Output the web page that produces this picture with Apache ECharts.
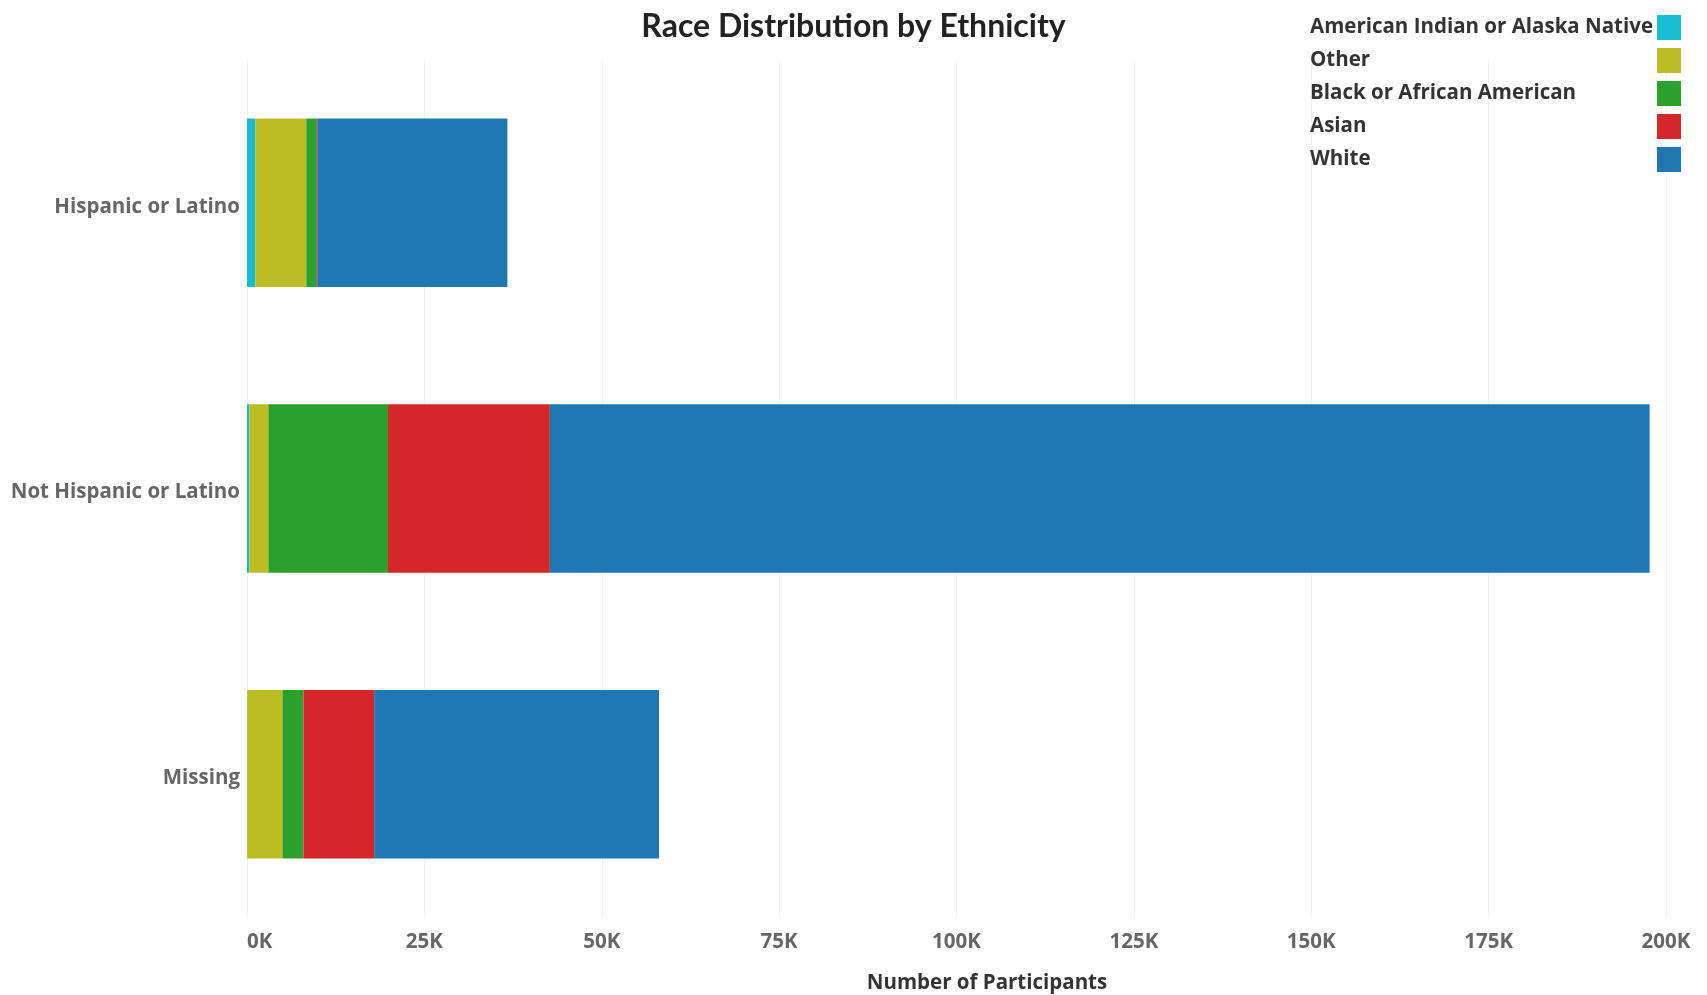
<!DOCTYPE html>
<html>
<head>
<meta charset="utf-8">
<script src="https://cdn.jsdelivr.net/npm/echarts@6/dist/echarts.min.js"></script>
<style>
html,body{margin:0;padding:0;background:#fff;}
#chart{width:1707px;height:995px;}
</style>
</head>
<body>
<div id="chart"></div>
<script>
const categories = ['Hispanic or Latino', 'Not Hispanic or Latino', 'Missing'];
const seriesNames = ['American Indian or Alaska Native', 'Other', 'Black or African American', 'Asian', 'White'];
const americanIndian = [1170, 330, 30];
const other = [7180, 2680, 4970];
const black = [1410, 16860, 2960];
const asian = [140, 22820, 9960];
const white = [26800, 155000, 40150];
const xTicks = [0, 25000, 50000, 75000, 100000, 125000, 150000, 175000, 200000];
const colors = ['#17becf', '#bcbd22', '#2ca02c', '#d62728', '#1f77b4'];

const values = [americanIndian, other, black, asian, white];
const FONT = 'Open Sans';
const TITLE_FONT = 'Lato';
const FS = 20.5;

const chart = echarts.init(document.getElementById('chart'));
chart.setOption({
  animation: false,
  color: colors,
  title: [
    {
      text: 'Race Distribution by Ethnicity',
      left: 'center',
      top: 6,
      textStyle: {fontFamily: TITLE_FONT, fontSize: 32, fontWeight: 'bold', color: '#222'}
    },
    {
      text: 'Number of Participants',
      left: 982,
      textAlign: 'center',
      top: 968,
      textStyle: {fontFamily: FONT, fontSize: FS, fontWeight: 'bold', color: '#333'}
    }
  ],
  legend: {
    orient: 'vertical',
    right: 21,
    top: 10,
    align: 'right',
    itemWidth: 24,
    itemHeight: 25,
    itemGap: 8,
    icon: 'rect',
    selectedMode: false,
    data: seriesNames,
    formatter: '{n|{name}}',
    textStyle: {
      fontFamily: FONT, fontSize: FS, fontWeight: 'bold', color: '#333',
      rich: {n: {width: 342, align: 'left', fontFamily: FONT, fontSize: FS, fontWeight: 'bold', color: '#333'}}
    }
  },
  grid: {left: 247, right: 41, top: 60, bottom: 78, containLabel: false},
  xAxis: {
    type: 'value',
    min: xTicks[0],
    max: xTicks[xTicks.length - 1],
    interval: xTicks[1] - xTicks[0],
    axisLine: {show: false},
    axisTick: {show: false},
    splitLine: {show: true, lineStyle: {color: '#f0f0f0', width: 1}},
    axisLabel: {
      margin: 15,
      alignMinLabel: 'left',
      fontFamily: FONT, fontSize: FS, fontWeight: 'bold', color: '#666',
      formatter: v => (v / 1000) + 'K'
    }
  },
  yAxis: {
    type: 'category',
    data: categories,
    inverse: true,
    axisLine: {show: false},
    axisTick: {show: false},
    splitLine: {show: false},
    axisLabel: {
      margin: 7,
      fontFamily: FONT, fontSize: FS, fontWeight: 'bold', color: '#666',
      formatter: '{c|{value}}',
      rich: {c: {padding: [8, 0, 0, 0], fontFamily: FONT, fontSize: FS, fontWeight: 'bold', color: '#666'}}
    }
  },
  series: seriesNames.map((name, i) => ({
    name: name,
    type: 'bar',
    stack: 'total',
    barCategoryGap: '41%',
    data: values[i],
    itemStyle: {color: colors[i]}
  }))
});
</script>
</body>
</html>
